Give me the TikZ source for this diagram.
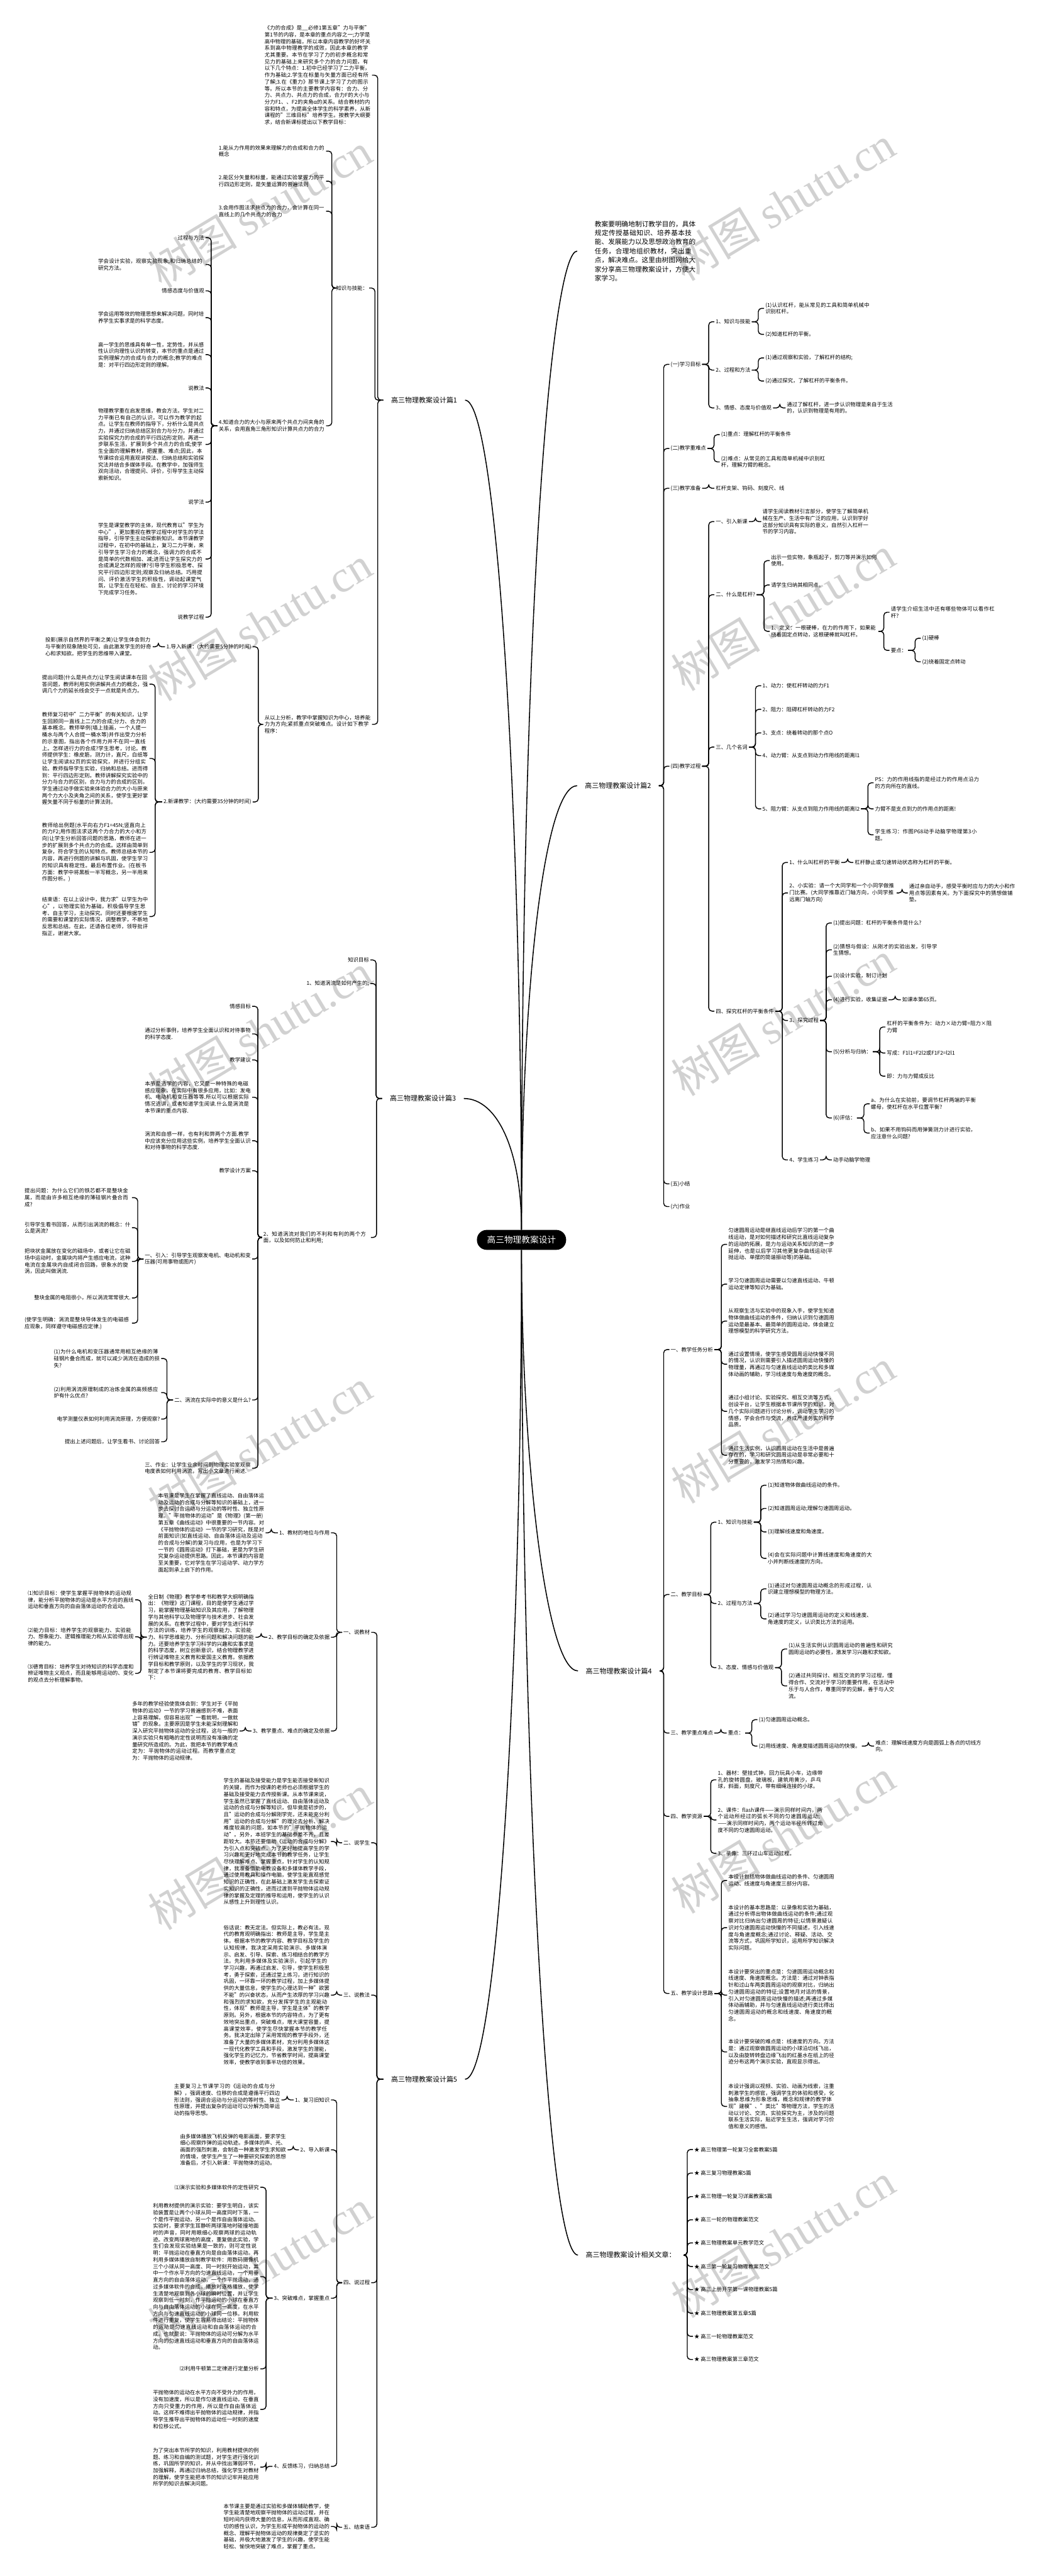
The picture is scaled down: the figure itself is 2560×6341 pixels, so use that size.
\documentclass[tikz,border=0pt]{standalone}
\usepackage{fontspec}
\setmainfont{Noto Sans CJK SC}
\newfontfamily\wmlatin{Liberation Serif}
\XeTeXlinebreaklocale "zh"
\XeTeXlinebreakskip=0pt plus 1pt
\newcommand{\itemfont}{\fontsize{6.5pt}{8.3pt}\selectfont}
\newcommand{\labfont}{\fontsize{8.5pt}{10pt}\selectfont}
\newcommand{\rootfont}{\fontsize{10.6pt}{12pt}\selectfont}
\newcommand{\introfont}{\fontsize{8.25pt}{11.15pt}\selectfont}
\tikzset{
  link/.style={line width=1.1pt, rounded corners=4pt},
  trunk/.style={line width=1.2pt},
  rt/.style={anchor=west, inner xsep=1.5pt, inner ysep=1pt, font=\itemfont},
  lt/.style={anchor=east, inner xsep=1.5pt, inner ysep=1pt, font=\itemfont},
  para/.style={text width=130.5pt, align=left},
  lab/.style={font=\labfont, inner xsep=9.5pt, inner ysep=2pt},
  hub/.style={fill=black, text=white, rounded corners=12pt, minimum height=24.5pt, inner xsep=12.5pt, font=\rootfont},
  intro/.style={anchor=west, font=\introfont, text width=124.5pt, align=left, inner xsep=21.5pt},
  wm/.style={rotate=31, text=black!18, font=\fontsize{55pt}{55pt}\selectfont}
}

\begin{document}
\begin{tikzpicture}[x=0.5pt, y=-0.5pt]
\useasboundingbox (0,0) rectangle (2560,6341);
\fill[white] (0,0) rectangle (2560,6341);
% watermark
\foreach \wy in {517,1535,2538,3560,4560,5580} \node[wm] at (640,\wy) {树图 {\wmlatin shutu.cn}};
\foreach \wy in {500,1509,2507,3510,4519,5515} \node[wm] at (1928,\wy) {树图 {\wmlatin shutu.cn}};

% centre
\node[hub] (root) at (1284,3052) {高三物理教案设计};
\node[intro] (intro) at (1421,618) {教案要明确地制订教学目的，具体规定传授基础知识、培养基本技能、发展能力以及思想政治教育的任务，合理地组织教材，突出重点，解决难点。这里由树图网给大家分享高三物理教案设计，方便大家学习。};

% ---- 篇1
\node[lab, anchor=east] (b1) at (1145,985) {高三物理教案设计篇1};
\node[lt, para] (b1a) at (916,185) {《力的合成》是\_\_必修1第五章"力与平衡"第1节的内容，是本章的重点内容之一;力学是高中物理的基础，所以本章内容教学的好坏关系到高中物理教学的成败，因此本章的教学尤其重要。本节在学习了力的初步概念和常见力的基础上来研究多个力的合力问题，有以下几个特点：1.初中已经学习了二力平衡，作为基础;2.学生在标量与矢量方面已经有所了解;3.在《重力》那节课上学习了力的图示等。所以本节的主要教学内容有：合力、分力、共点力、共点力的合成，合力F的大小与分力F1、、F2的夹角α的关系。结合教材的内容和特点，为提高全体学生的科学素养，从新课程的"三维目标"培养学生。按教学大纲要求，结合新课标提出以下教学目标：};
\node[lt] (b1b) at (909,709) {知识与技能：};
\node[lt, para] (b1b1) at (803,372) {1.能从力作用的效果来理解力的合成和合力的概念};
\node[lt, para] (b1b2) at (803,446) {2.能区分矢量和标量，能通过实验掌握力的平行四边形定则，是矢量运算的普遍法则};
\node[lt, para] (b1b3) at (803,520) {3.会用作图法求共点力的合力，会计算在同一直线上的几个共点力的合力};
\node[lt, para] (b1b4) at (803,1048) {4.知道合力的大小与原来两个共点力间夹角的关系，会用直角三角形知识计算共点力的合力};
\node[lt] (k1) at (506,585) {过程与方法};
\node[lt, para] (k2) at (506,651) {学会设计实验，观察实验现象;和归纳总结的研究方法。};
\node[lt] (k3) at (506,716) {情感态度与价值观};
\node[lt, para] (k4) at (506,782) {学会运用等效的物理思想来解决问题，同时培养学生实事求是的科学态度。};
\node[lt, para] (k5) at (506,873) {高一学生的思维具有单一性，定势性，并从感性认识向理性认识的转变，本节的重点是通过实例理解力的合成与合力的概念;教学的难点是：对平行四边形定则的理解。};
\node[lt] (k6) at (506,955) {说教法};
\node[lt, para] (k7) at (506,1094) {物理教学重在启发思维，教会方法。学生对二力平衡已有自己的认识，可以作为教学的起点。让学生在教师的指导下，分析什么是共点力，并通过归纳总结区别合力与分力，并通过实验探究力的合成的平行四边形定则，再进一步联系生活，扩展到多个共点力的合成;使学生全面的理解教材，把握重、难点;因此，本节课综合运用直观讲授法、归纳总结和实验探究法并结合多媒体手段。在教学中，加强师生双向活动，合理提问、评价，引导学生主动探索新知识。};
\node[lt] (k8) at (506,1236) {说学法};
\node[lt, para] (k9) at (506,1376) {学生是课堂教学的主体，现代教育以"学生为中心"，更加重视在教学过程中对学生的学法指导，引导学生主动探索新知识。本节课教学过程中，在初中的基础上，复习二力平衡，来引导学生学习合力的概念，强调力的合成不是简单的代数相加、减;进而让学生探究力的合成满足怎样的规律?引导学生积极思考、探究平行四边形定则;观察及归纳总结。巧用提问、评价激活学生的积极性，调动起课堂气氛，让学生在在轻松、自主、讨论的学习环境下完成学习任务。};
\node[lt] (k10) at (506,1519) {说教学过程};
\node[lt, para] (b1c) at (916,1783) {从以上分析，教学中掌握知识为中心，培养能力为方向;紧抓重点突破难点。设计如下教学程序：};
\node[lt] (b1c1) at (622,1592) {1.导入新课：(大约需要5分钟的时间)};
\node[lt, para] (b1c1a) at (376,1592) {投影(展示自然界的平衡之美)让学生体会到力与平衡的现象随处可见，由此激发学生的好奇心和求知欲。把学生的思维带入课堂。};
\node[lt] (b1c2) at (622,1974) {2.新课教学：(大约需要35分钟的时间)};
\node[lt, para] (p1) at (368,1684) {提出问题(什么是共点力)让学生阅读课本在回答问题，教师利用实例讲解共点力的概念，强调几个力的延长线会交于一点就是共点力。};
\node[lt, para] (p2) at (368,1867) {教师复习初中"二力平衡"的有关知识，让学生回顾同一直线上二力的合成;分力、合力的基本概念。教师举例(墙上挂画，一个人提一桶水与两个人合提一桶水等)并作出受力分析的示意图，指出各个作用力并不在同一直线上。怎样进行力的合成?学生思考，讨论。教师提供学生：橡皮筋，测力计，直尺，白纸等让学生阅读82页的实验探究，并进行分组实验。教师指导学生实验，归纳和总结。进而得到：平行四边形定则。教师讲解探究实验中的分力与合力的区别，合力与力的合成的区别。学生通过动手做实验来体验合力的大小与原来两个力大小及夹角之间的关系，使学生更好掌握矢量不同于标量的计算法则。};
\node[lt, para] (p3) at (368,2098) {教师给出例题(水平向右力F1=45N;竖直向上的力F2;用作图法求这两个力合力的大小和方向)让学生分析回答问题的思路，教师在进一步的扩展到多个共点力的合成。这样由简单到复杂，符合学生的认知特点。教师总结本节的内容，再进行例题的讲解与巩固，使学生学习的知识具有稳定性。最后布置作业。(在板书方面：教学中将黑板一半写概念，另一半用来作图分析。)};
\node[lt, para] (p4) at (368,2256) {结束语：在以上设计中，我力求"以学生为中心"，以物理实验为基础，积极倡导学生思考、自主学习，主动探究。同时还要根据学生的需要和课堂的实际情况，调整教学，不断地反思和总结。在此，还请各位老师，领导批评指正，谢谢大家。};

% ---- 篇3
\node[lab, anchor=east] (b3) at (1142,2704) {高三物理教案设计篇3};
\node[lt] (b3a) at (912,2363) {知识目标};
\node[lt] (b3b) at (912,2421) {1、知道涡流是如何产生的;};
\node[lt, para] (b3c) at (913,3046) {2、知道涡流对我们的不利和有利的两个方面，以及如何防止和利用;};
\node[lt] (e1) at (621,2477) {情感目标};
\node[lt, para] (e2) at (621,2545) {通过分析事例，培养学生全面认识和对待事物的科学态度.};
\node[lt] (e3) at (621,2609) {教学建议};
\node[lt, para] (e4) at (621,2701) {本节是选学的内容，它又是一种特殊的电磁感应现象，在实际中有很多应用，比如：发电机、电动机和变压器等等.所以可以根据实际情况选讲，或者知道学生阅读.什么是涡流是本节课的重点内容.};
\node[lt, para] (e5) at (621,2808) {涡流和自感一样，也有利和弊两个方面.教学中应该充分应用这些实例，培养学生全面认识和对待事物的科学态度.};
\node[lt] (e6) at (621,2882) {教学设计方案};
\node[lt, para] (e7) at (621,3099) {一、引入：引导学生观察发电机、电动机和变压器(可用事物或图片)};
\node[lt, para] (e7a) at (325,2948) {提出问题：为什么它们的铁芯都不是整块金属，而是由许多相互绝缘的薄硅钢片叠合而成?};
\node[lt, para] (e7b) at (325,3022) {引导学生看书回答，从而引出涡流的概念：什么是涡流?};
\node[lt, para] (e7c) at (325,3105) {把块状金属放在变化的磁场中，或者让它在磁场中运动时，金属块内将产生感应电流，这种电流在金属块内自成闭合回路，很象水的旋涡，因此叫做涡流.};
\node[lt] (e7d) at (325,3195) {整块金属的电阻很小，所以涡流常常很大.};
\node[lt, para] (e7e) at (325,3257) {(使学生明确：涡流是整块导体发生的电磁感应现象，同样遵守电磁感应定律.)};
\node[lt] (e8) at (621,3446) {二、涡流在实际中的意义是什么?};
\node[lt, para] (e8a) at (397,3344) {(1)为什么电机和变压器通常用相互绝缘的薄硅钢片叠合而成，就可以减少涡流在造成的损失?};
\node[lt, para] (e8b) at (397,3428) {(2)利用涡流原理制成的冶炼金属的高频感应炉有什么优点?};
\node[lt] (e8c) at (397,3493) {电学测量仪表如何利用涡流原理，方便观察?};
\node[lt] (e8d) at (397,3549) {提出上述问题后，让学生看书、讨论回答};
\node[lt, para] (e9) at (621,3614) {三、作业：让学生业余时间到物理实验室观察电度表如何利用涡流，写出小文章进行阐述.};

% ---- 篇5
\node[lab, anchor=east] (b5) at (1145,5118) {高三物理教案设计篇5};
\node[lt] (b5a) at (914,4018) {一、说教材};
\node[lt] (m1) at (815,3773) {1、教材的地位与作用};
\node[lt, para] (m1a) at (654,3773) {本节课是学生在掌握了直线运动、自由落体运动及运动的合成与分解等知识的基础上，进一步去探讨合运动与分运动的等时性、独立性原理。"平抛物体的运动"是《物理》(第一册)第五章《曲线运动》中很重要的一节内容。对《平抛物体的运动》一节的学习研究，既是对前面知识(如直线运动、自由落体运动及运动的合成与分解)的复习与应用，也是为学习下一节的《圆周运动》打下基础，更是为学生研究复杂运动提供思路。因此，本节课的内容是至关重要，它对学生在学习运动学、动力学方面起到承上启下的作用。};
\node[lt] (m2) at (815,4030) {2、教学目标的确定及依据};
\node[lt, para] (m2a) at (629,4030) {全日制《物理》教学参考书和教学大纲明确指出：《物理》这门课程，目的是使学生通过学习，能掌握物理基础知识及其应用，了解物理学与其他科学以及物理学与技术进步、社会发展的关系。在教学过程中，要对学生进行科学方法的训练，培养学生的观察能力、实验能力、科学思维能力、分析问题和解决问题的能力。还要培养学生学习科学的兴趣和实事求是的科学态度，树立创新意识，结合物理教学进行辨证唯物主义教育和爱国主义教育。依据教学目标和教学原则，以及学生的学习现状，我制定了本节课将要完成的教育、教学目标如下：};
\node[lt, para] (m2a1) at (333,3938) {⑴知识目标：使学生掌握平抛物体的运动规律，能分析平抛物体的运动是水平方向的直线运动和垂直方向的自由落体运动的合运动。};
\node[lt, para] (m2a2) at (333,4029) {⑵能力目标：培养学生的观察能力、实验能力、想象能力、逻辑推理能力和从实验得出规律的能力。};
\node[lt, para] (m2a3) at (333,4119) {⑶德育目标：培养学生对待知识的科学态度和辨证唯物主义观点，而且能够用运动的、变化的观点去分析理解事物。};
\node[lt] (m3) at (815,4261) {3、教学重点、难点的确定及依据};
\node[lt, para] (m3a) at (590,4261) {多年的教学经验使我体会到：学生对于《平抛物体的运动》一节的学习普遍感到不难，表面上容易理解。但容易出现"一看就明，一做就错"的现象。主要原因是学生未能深刻理解和深入研究平抛物体运动的全过程，这与一般的演示实验只有粗略的定性说明而没有准确的定量研究所造成的。为此，我把本节的教学难点定为：平抛物体的运动过程。而教学重点定为：平抛物体的运动规律。};
\node[lt] (b5b) at (914,4536) {二、说学生};
\node[lt, para] (b5b1) at (815,4533) {学生的基础及接受能力是学生能否接受新知识的关键，而作为授课的老师也必须根据学生的基础及接受能力去传授新课。从本节课来说，学生虽然已掌握了直线运动、自由落体运动及运动的合成与分解等知识，但毕竟是初步的，且"运动的合成与分解刚学完，还未能充分利用"运动的合成与分解"的理论去分析、解决难度较高的问题，如本节的"平抛物体的运动"。另外，本班学生的基础参差不齐，且差距较大。本节还要借助《运动的合成与分解》为引入点和突破点。为了更好地提高学生的学习兴趣和更好地完成本节的教学任务，让学生尽快理解难点、掌握重点，针对学生的认知规律，我准备借助电教设备和多媒体教学手段，通过使用教具和操作电脑，使学生能直观感觉知识的正确性，在此基础上激发学生去探索证实知识的正确性，进而过渡到平抛物体运动规律的掌握及定理的推导和运用，使学生的认识从感性上升到理性认识。};
\node[lt] (b5c) at (914,4911) {三、说教法};
\node[lt, para] (b5c1) at (815,4911) {俗话说：教无定法。但实际上，教必有法。现代的教育观明确指出：教师是主导，学生是主体。根据本节的教学内容、教学目标及学生的认知规律，我决定采用实验演示、多媒体演示、启发、引导、探索、练习相结合的教学方法。先利用多媒体及实验演示，引起学生的学习兴趣，再通过启发、引导，使学生积极思考，勇于探索，还通过堂上练习，进行知识的巩固，一环靠一环的教学过程，加上多媒体提供的大量信息，使学生的心理达到一种"欲罢不能"的兴奋状态，从而产生浓厚的学习兴趣和强烈的求知欲，充分发挥学生的主观能动性，体现"教师是主导，学生是主体"的教学原则。另外，根据本节的内容特点，为了更有效地突出重点，突破难点，增大课堂容量，提高课堂效率，使学生尽快掌握本节的教学任务。我决定出除了采用常规的教学手段外，还准备了大量的多媒体素材，充分利用多媒体这一现代化教学工具和手段，激发学生的潜能，强化学生的记忆力，节省教学时间，提高课堂效率，使教学收到事半功倍的效果。};
\node[lt] (b5d) at (914,5619) {四、说过程};
\node[lt] (s1) at (815,5169) {1、复习旧知识};
\node[lt, para] (s1a) at (693,5169) {主要复习上节课学习的《运动的合成与分解》，强调速度、位移的合成是遵循平行四边形法则，强调合运动与分运动的等时性、独立性原理，并提出复杂的运动可以分解为简单运动的指导思想。};
\node[lt] (s2) at (815,5292) {2、导入新课};
\node[lt, para] (s2a) at (708,5292) {由多媒体播放飞机投弹的电影画面，要求学生细心观察炸弹的运动轨迹。多媒体的声、光、画面的强烈刺激，会制造一种激发学生求知欲的情境，使学生产生了一种要研究探索的思想准备后，才引入新课：平抛物体的运动。};
\node[lt] (s3) at (815,5657) {3、突破难点，掌握重点};
\node[lt] (s3a) at (641,5384) {⑴演示实验和多媒体软件的定性研究};
\node[lt, para] (s3b) at (641,5604) {利用教材提供的演示实验：要学生明白，该实验装置是让两个小球从同一高度同时下落，一个是作平抛运动，另一个是作自由落体运动。实验时，要求学生耳静听两球落地时碰撞地面时的声音，同时用眼细心观察两球的运动轨迹。改变两球离地的高度，重复做此实验，学生们会发现实验结果是一致的，则可定性说明：平抛运动在垂直方向是自由落体运动。再利用多媒体播放自制教学软件：用数码摄像机三个小球从同一高度、同一时刻开始运动，其中一个作水平方向的匀速直线运动，一个用垂直方向的自由落体运动，一个作平抛运动，通过多媒体软件的合成，播放时逐格播放，使学生清楚地观察到各小球的瞬时位置，并让学生观察到任一时刻，作平抛运动的小球在垂直方向与自由落体运动的小球在同一高度，在水平方向与匀速直线运动的小球同一位移。利用软件进行重复，使学生容易得出结论：平抛物体的运动是匀速直线运动和自由落体运动的合成。也就是说：平抛物体的运动可分解为水平方向的匀速直线运动和垂直方向的自由落体运动。};
\node[lt] (s3c) at (641,5831) {⑵利用牛顿第二定律进行定量分析};
\node[lt, para] (s3d) at (641,5931) {平抛物体的运动在水平方向不受外力的作用，没有加速度，所以是作匀速直线运动，在垂直方向只受重力的作用，所以是作自由落体运动。这样不难得出平抛物体的运动规律，并指导学生推导出平抛物体的运动任一时刻的速度和位移公式。};
\node[lt] (s4) at (815,6071) {4、反馈练习，归纳总结};
\node[lt, para] (s4a) at (641,6073) {为了突出本节所学的知识，利用教材提供的例题、练习和自编的测试题，对学生进行强化训练，巩固所学的知识，并从中找出薄弱环节，加强解释，再通过归纳总结，强化学生对教材的理解，使学生能把本节的知识记牢并能应用所学的知识去解决问题。};
\node[lt] (b5e) at (914,6221) {五、结束语};
\node[lt, para] (b5e1) at (815,6219) {本节课主要是通过实验和多媒体辅助教学，使学生能清楚地观察平抛物体的运动过程，并在短时间内获得大量的信息，从而形成直观、确切的感性认识，为学生形成平抛物体的运动的概念、理解平抛物体运动的规律奠定了坚实的基础，并极大地激发了学生的兴趣，使学生能轻松、愉快地突破了难点，掌握了重点。};

% ---- 篇2
\node[lab, anchor=west] (b2) at (1421,1934) {高三物理教案设计篇2};
\node[rt] (b2a) at (1648,897) {(一)学习目标};
\node[rt] (n1) at (1759,792) {1、知识与技能};
\node[rt, para] (n1a) at (1881,759) {(1)认识杠杆，能从常见的工具和简单机械中识别杠杆。};
\node[rt] (n1b) at (1881,823) {(2)知道杠杆的平衡。};
\node[rt] (n2) at (1759,911) {2、过程和方法};
\node[rt] (n2a) at (1881,881) {(1)通过观察和实验，了解杠杆的结构;};
\node[rt] (n2b) at (1881,938) {(2)通过探究，了解杠杆的平衡条件。};
\node[rt] (n3) at (1759,1004) {3、情感、态度与价值观};
\node[rt, para] (n3a) at (1934,1004) {通过了解杠杆，进一步认识物理是来自于生活的，认识到物理是有用的。};
\node[rt] (b2b) at (1648,1104) {(二)教学重难点};
\node[rt] (o1) at (1772,1070) {(1)重点：理解杠杆的平衡条件};
\node[rt, para] (o2) at (1772,1137) {(2)难点：从常见的工具和简单机械中识别杠杆，理解力臂的概念。};
\node[rt] (b2c) at (1648,1202) {(三)教学准备};
\node[rt] (b2c1) at (1759,1202) {杠杆支架、钩码、刻度尺、线};
\node[rt] (b2d) at (1648,1886) {(四)教学过程};
\node[rt] (q1) at (1759,1284) {一、引入新课};
\node[rt, para] (q1a) at (1874,1284) {请学生阅读教材引言部分，使学生了解简单机械在生产、生活中有广泛的应用，认识到学好这部分知识具有实际的意义，自然引入杠杆一节的学习内容。};
\node[rt] (q2) at (1759,1464) {二、什么是杠杆?};
\node[rt, para] (q2a) at (1895,1380) {出示一些实物，象瓶起子，剪刀等并演示如何使用。};
\node[rt] (q2b) at (1895,1440) {请学生归纳其相同点。};
\node[rt, para] (q2c) at (1895,1554) {1、定义：一根硬棒，在力的作用下，如果能绕着固定点转动，这根硬棒就叫杠杆。};
\node[rt, para] (q2c1) at (2190,1507) {请学生介绍生活中还有哪些物体可以看作杠杆?};
\node[rt] (q2c2) at (2190,1601) {要点：};
\node[rt] (q2c2a) at (2267,1571) {(1)硬棒};
\node[rt] (q2c2b) at (2267,1629) {(2)绕着固定点转动};
\node[rt] (q3) at (1759,1839) {三、几个名词};
\node[rt] (r1) at (1874,1688) {1、动力：使杠杆转动的力F1};
\node[rt] (r2) at (1874,1746) {2、阻力：阻碍杠杆转动的力F2};
\node[rt] (r3) at (1874,1804) {3、支点：绕着转动的那个点O};
\node[rt] (r4) at (1874,1860) {4、动力臂：从支点到动力作用线的距离l1};
\node[rt] (r5) at (1874,1991) {5、阻力臂：从支点到阻力作用线的距离l2};
\node[rt, para] (r5a) at (2151,1927) {PS：力的作用线指的是经过力的作用点沿力的方向所在的直线。};
\node[rt] (r5b) at (2151,1991) {力臂不是支点到力的作用点的距离!};
\node[rt, para] (r5c) at (2151,2055) {学生练习：作图P68动手动脑学物理第3小题。};
\node[rt] (q4) at (1759,2489) {四、探究杠杆的平衡条件};
\node[rt] (t1) at (1940,2123) {1、什么叫杠杆的平衡};
\node[rt] (t1a) at (2101,2123) {杠杆静止或匀速转动状态称为杠杆的平衡。};
\node[rt, para] (t2) at (1940,2198) {2、小实验：请一个大同学和一个小同学做推门比赛。(大同学推靠近门轴方向，小同学推远离门轴方向)};
\node[rt, para] (t2a) at (2235,2198) {通过亲自动手，感受平衡时应与力的大小和作用点等因素有关。为下面探究中的猜想做铺垫。};
\node[rt] (t3) at (1940,2512) {3、探究过程};
\node[rt] (u1) at (2048,2272) {(1)提出问题：杠杆的平衡条件是什么?};
\node[rt, para] (u2) at (2048,2338) {(2)猜想与假设：从刚才的实验出发，引导学生猜想。};
\node[rt] (u3) at (2048,2403) {(3)设计实验，制订计划};
\node[rt] (u4) at (2048,2461) {(4)进行实验，收集证据};
\node[rt] (u4a) at (2218,2461) {如课本第65页。};
\node[rt] (u5) at (2048,2589) {(5)分析与归纳：};
\node[rt, para] (u5a) at (2180,2528) {杠杆的平衡条件为：动力×动力臂=阻力×阻力臂};
\node[rt] (u5b) at (2180,2592) {写成：F1l1=F2l2或F1F2=l2l1};
\node[rt] (u5c) at (2180,2649) {即：力与力臂成反比};
\node[rt] (u6) at (2048,2752) {(6)评估：};
\node[rt, para] (u6a) at (2141,2717) {a、为什么在实验前，要调节杠杆两端的平衡螺母，使杠杆在水平位置平衡?};
\node[rt, para] (u6b) at (2141,2789) {b、如果不用钩码而用弹簧测力计进行实验，应注意什么问题?};
\node[rt] (t4) at (1940,2855) {4、学生练习};
\node[rt] (t4a) at (2048,2855) {动手动脑学物理};
\node[rt] (b2e) at (1648,2914) {(五)小结};
\node[rt] (b2f) at (1648,2970) {(六)作业};

% ---- 篇4
\node[lab, anchor=west] (b4) at (1423,4113) {高三物理教案设计篇4};
\node[rt] (b4a) at (1648,3322) {一、教学任务分析};
\node[rt, para] (v1) at (1790,3063) {匀速圆周运动是继直线运动后学习的第一个曲线运动，是对如何描述和研究比直线运动复杂的运动的拓展，是力与运动关系知识的进一步延伸，也是以后学习其他更复杂曲线运动(平抛运动、单摆的简谐振动等)的基础。};
\node[rt, para] (v2) at (1790,3161) {学习匀速圆周运动需要以匀速直线运动、牛顿运动定律等知识为基础。};
\node[rt, para] (v3) at (1790,3252) {从观察生活与实验中的现象入手，使学生知道物体做曲线运动的条件，归纳认识到匀速圆周运动是最基本、最简单的圆周运动，体会建立理想模型的科学研究方法。};
\node[rt, para] (v4) at (1790,3358) {通过设置情境，使学生感受圆周运动快慢不同的情况，认识到需要引入描述圆周运动快慢的物理量，再通过与匀速直线运动的类比和多媒体动画的辅助，学习线速度与角速度的概念。};
\node[rt, para] (v5) at (1790,3474) {通过小组讨论、实验探究、相互交流等方式，创设平台，让学生根据本节课所学的知识，对几个实际问题进行讨论分析，调动学生学习的情感，学会合作与交流，养成严谨务实的科学品质。};
\node[rt, para] (v6) at (1790,3582) {通过生活实例，认识圆周运动在生活中是普遍存在的，学习和研究圆周运动是非常必要和十分重要的，激发学习热情和兴趣。};
\node[rt] (b4b) at (1648,3925) {二、教学目标};
\node[rt] (w1) at (1764,3747) {1、知识与技能};
\node[rt] (w1a) at (1887,3656) {(1)知道物体做曲线运动的条件。};
\node[rt] (w1b) at (1887,3713) {(2)知道圆周运动;理解匀速圆周运动。};
\node[rt] (w1c) at (1887,3771) {(3)理解线速度和角速度。};
\node[rt, para] (w1d) at (1887,3836) {(4)会在实际问题中计算线速度和角速度的大小并判断线速度的方向。};
\node[rt] (w2) at (1764,3947) {2、过程与方法};
\node[rt, para] (w2a) at (1887,3911) {(1)通过对匀速圆周运动概念的形成过程，认识建立理想模型的物理方法。};
\node[rt, para] (w2b) at (1887,3985) {(2)通过学习匀速圆周运动的定义和线速度、角速度的定义，认识类比方法的运用。};
\node[rt] (w3) at (1764,4105) {3、态度、情感与价值观};
\node[rt, para] (w3a) at (1938,4059) {(1)从生活实例认识圆周运动的普遍性和研究圆周运动的必要性，激发学习兴趣和求知欲。};
\node[rt, para] (w3b) at (1938,4150) {(2)通过共同探讨、相互交流的学习过程，懂得合作、交流对于学习的重要作用，在活动中乐于与人合作，尊重同学的见解，善于与人交流。};
\node[rt] (b4c) at (1648,4266) {三、教学重点难点};
\node[rt] (x0) at (1789,4266) {重点：};
\node[rt] (x1) at (1865,4233) {(1)匀速圆周运动概念。};
\node[rt] (x2) at (1865,4298) {(2)用线速度、角速度描述圆周运动的快慢。};
\node[rt, para] (x2a) at (2152,4298) {难点：理解线速度方向是圆弧上各点的切线方向。};
\node[rt] (b4d) at (1648,4471) {四、教学资源};
\node[rt, para] (y1) at (1764,4381) {1、器材：壁挂式钟，回力玩具小车，边缘带孔的旋转圆盘，玻璃板，建筑用黄沙，乒乓球，斜面，刻度尺，带有细绳连接的小球。};
\node[rt, para] (y2) at (1764,4480) {2、课件：flash课件——演示同样时间内，两个运动所经过的弧长不同的匀速圆周运动;——演示同样时间内，两个运动半径所转过角度不同的匀速圆周运动。};
\node[rt] (y3) at (1764,4562) {3、录像：三环过山车运动过程。};
\node[rt] (b4e) at (1648,4907) {五、教学设计思路};
\node[rt, para] (z1) at (1790,4629) {本设计包括物体做曲线运动的条件、匀速圆周运动、线速度与角速度三部分内容。};
\node[rt, para] (z2) at (1790,4745) {本设计的基本思路是：以录像和实验为基础，通过分析得出物体做曲线运动的条件;通过观察对比归纳出匀速圆周的特征;以情景激疑认识对匀速圆周运动快慢的不同描述，引入线速度与角速度概念;通过讨论、释疑、活动、交流等方式，巩固所学知识，运用所学知识解决实际问题。};
\node[rt, para] (z3) at (1790,4911) {本设计要突出的重点是：匀速圆周运动概念和线速度、角速度概念。方法是：通过对钟表指针和过山车两类圆周运动的观察对比，归纳出匀速圆周运动的特征;设置地月对话的情景，引入对匀速圆周运动快慢的描述;再通过多媒体动画辅助，并与匀速直线运动进行类比得出匀速圆周运动的概念和线速度、角速度的概念。};
\node[rt, para] (z4) at (1790,5051) {本设计要突破的难点是：线速度的方向。方法是：通过观察做圆周运动的小球沿切线飞出，以及由旋转转盘边缘飞出的红墨水在纸上的径迹分布这两个演示实验，直观显示得出。};
\node[rt, para] (z5) at (1790,5185) {本设计强调以视频、实验、动画为线索，注重刺激学生的感官，强调学生的体验和感受，化抽象思维为形象思维，概念和规律的教学体现"建模"、"类比"等物理方法，学生的活动以讨论、交流、实验探究为主，涉及的问题联系生活实际，贴近学生生活，强调对学习价值和意义的感悟。};

% ---- related
\node[lab, anchor=west] (rel) at (1423,5551) {高三物理教案设计相关文章：};
\foreach \i/\yy/\t in {1/5291/高三物理第一轮复习全套教案5篇, 2/5349/高三复习物理教案5篇, 3/5407/高三物理一轮复习详案教案5篇, 4/5464/高三一轮的物理教案范文, 5/5521/高三物理教案单元教学范文, 6/5579/高三第一轮复习物理教案范文, 7/5636/高三上册开学第一课物理教案5篇, 8/5694/高三物理教案第五章5篇, 9/5751/高三一轮物理教案范文, 10/5808/高三物理教案第三章范文}
  \node[rt] (rel\i) at (1706,\yy) {★ \t};

% trunks from the centre
\draw[trunk] (root.north) .. controls +(0,-1600) and +(-60,0) .. (intro.west);
\draw[trunk] (root.north) .. controls +(0,-1000) and +(80,0) .. (b1.east);
\draw[trunk] (root.north) .. controls +(0,-600) and +(-80,0) .. (b2.west);
\draw[trunk] (root.north) .. controls +(0,-200) and +(80,0) .. (b3.east);
\draw[trunk] (root.south) .. controls +(0,500) and +(-80,0) .. (b4.west);
\draw[trunk] (root.south) .. controls +(0,1000) and +(80,0) .. (b5.east);
\draw[trunk] (root.south) .. controls +(0,1200) and +(-80,0) .. (rel.west);

% left brackets
\foreach \p/\c in {b1/b1a, b1/b1b, b1/b1c, b1b/b1b1, b1b/b1b2, b1b/b1b3, b1b/b1b4,
  b1b4/k1, b1b4/k2, b1b4/k3, b1b4/k4, b1b4/k5, b1b4/k6, b1b4/k7, b1b4/k8, b1b4/k9, b1b4/k10,
  b1c/b1c1, b1c/b1c2, b1c1/b1c1a, b1c2/p1, b1c2/p2, b1c2/p3, b1c2/p4,
  b3/b3a, b3/b3b, b3/b3c, b3c/e1, b3c/e2, b3c/e3, b3c/e4, b3c/e5, b3c/e6, b3c/e7, b3c/e8, b3c/e9,
  e7/e7a, e7/e7b, e7/e7c, e7/e7d, e7/e7e, e8/e8a, e8/e8b, e8/e8c, e8/e8d,
  b5/b5a, b5/b5b, b5/b5c, b5/b5d, b5/b5e, b5a/m1, b5a/m2, b5a/m3, m1/m1a, m2/m2a, m3/m3a,
  m2a/m2a1, m2a/m2a2, m2a/m2a3, b5b/b5b1, b5c/b5c1, b5d/s1, b5d/s2, b5d/s3, b5d/s4,
  s1/s1a, s2/s2a, s3/s3a, s3/s3b, s3/s3c, s3/s3d, s4/s4a, b5e/b5e1}
  \draw[link] (\p.west) -| ([xshift=7pt]\c.east) -- (\c.east);

% right brackets
\foreach \p/\c in {b2/b2a, b2/b2b, b2/b2c, b2/b2d, b2/b2e, b2/b2f, b2a/n1, b2a/n2, b2a/n3,
  n1/n1a, n1/n1b, n2/n2a, n2/n2b, n3/n3a, b2b/o1, b2b/o2, b2c/b2c1,
  b2d/q1, b2d/q2, b2d/q3, b2d/q4, q1/q1a, q2/q2a, q2/q2b, q2/q2c, q2c/q2c1, q2c/q2c2,
  q2c2/q2c2a, q2c2/q2c2b, q3/r1, q3/r2, q3/r3, q3/r4, q3/r5, r5/r5a, r5/r5b, r5/r5c,
  q4/t1, q4/t2, q4/t3, q4/t4, t1/t1a, t2/t2a, t3/u1, t3/u2, t3/u3, t3/u4, t3/u5, t3/u6,
  u4/u4a, u5/u5a, u5/u5b, u5/u5c, u6/u6a, u6/u6b, t4/t4a,
  b4/b4a, b4/b4b, b4/b4c, b4/b4d, b4/b4e, b4a/v1, b4a/v2, b4a/v3, b4a/v4, b4a/v5, b4a/v6,
  b4b/w1, b4b/w2, b4b/w3,
  w1/w1a, w1/w1b, w1/w1c, w1/w1d, w2/w2a, w2/w2b, w3/w3a, w3/w3b,
  b4c/x0, x0/x1, x0/x2, x2/x2a, b4d/y1, b4d/y2, b4d/y3,
  b4e/z1, b4e/z2, b4e/z3, b4e/z4, b4e/z5}
  \draw[link] (\p.east) -| ([xshift=-7pt]\c.west) -- (\c.west);
\foreach \i in {1,...,10}
  \draw[link] (rel.east) -| ([xshift=-7pt]rel\i.west) -- (rel\i.west);
\end{tikzpicture}
\end{document}
